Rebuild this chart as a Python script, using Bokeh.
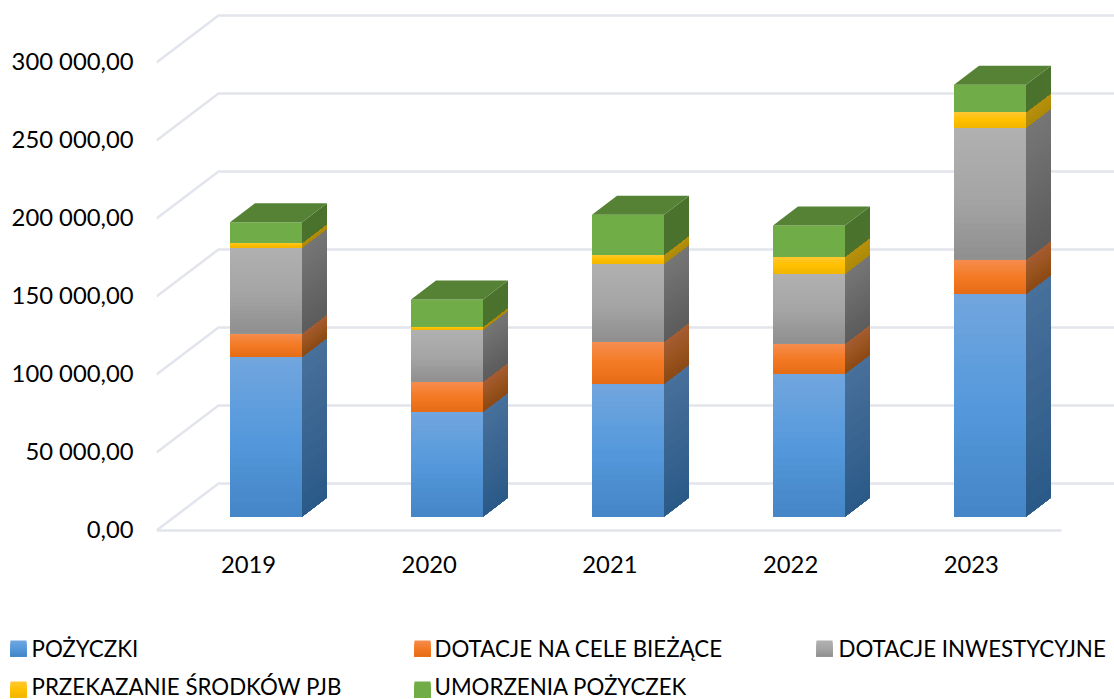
from bokeh.plotting import figure
from bokeh.layouts import column
from bokeh.models import FixedTicker, Range1d
from bokeh.core.properties import value
from bokeh.embed import file_html
from bokeh.resources import INLINE

years = ["2019", "2020", "2021", "2022", "2023"]
pozyczki = [102400, 67300, 85200, 91700, 142800]
dotacje_biezace = [15000, 19200, 26900, 19200, 21900]
dotacje_inwestycyjne = [55100, 33400, 50000, 44900, 84600]
przekazanie_pjb = [2950, 1900, 5800, 10800, 10000]
umorzenia = [13200, 17300, 25600, 19900, 17500]
y_ticks = [0, 50000, 100000, 150000, 200000, 250000, 300000]
y_labels = ["0,00", "50 000,00", "100 000,00", "150 000,00", "200 000,00", "250 000,00", "300 000,00"]

names = ["POŻYCZKI", "DOTACJE NA CELE BIEŻĄCE", "DOTACJE INWESTYCYJNE", "PRZEKAZANIE ŚRODKÓW PJB", "UMORZENIA POŻYCZEK"]
series = [pozyczki, dotacje_biezace, dotacje_inwestycyjne, przekazanie_pjb, umorzenia]
front_stops = [("#72A6DE", "#5599DC", "#4485C6"), ("#F58D50", "#F47A25", "#E66C16"),
               ("#B0B0B0", "#A6A6A6", "#8F8F8F"), ("#FFC835", "#FFC000", "#F2B600"),
               ("#70AD47", "#70AD47", "#70AD47")]
side_stops = [("#48709B", "#3A6591", "#2A5A88"), ("#A65D33", "#9A5420", "#8C4A14"),
              ("#767676", "#696969", "#5C5C5C"), ("#B8920F", "#B38E0C", "#AD8A0A"),
              ("#4B732E", "#4B732E", "#4B732E")]
top_color = "#568235"
grid_color = "#E2E5EC"
FONT = "Lato"
FS_TICK = "23.8px"
FS_LEG = "22.3px"

PX_X = 181.0
PX_Y = 50000 / 78.0
bar_left, bar_w = 73.5 / PX_X, 72 / PX_X
depth_x, depth_y = 25 / PX_X, 19 * PX_Y
base_y = 14 * PX_Y
wall_x, wall_y = 62 / PX_X, 47 * PX_Y
N = 22


def hex2rgb(c):
    return [int(c[i:i + 2], 16) for i in (1, 3, 5)]


def ramp(stops, t):
    if t < 0.5:
        a, b, f = stops[0], stops[1], t * 2
    else:
        a, b, f = stops[1], stops[2], (t - 0.5) * 2
    ca, cb = hex2rgb(a), hex2rgb(b)
    return "#%02x%02x%02x" % tuple(round(u + (v - u) * f) for u, v in zip(ca, cb))


p = figure(width=1114, height=625, output_backend="svg", toolbar_location=None,
           x_range=Range1d(0, 958 / PX_X), y_range=Range1d(-4 * PX_Y, 530 * PX_Y),
           min_border_left=156, min_border_right=0, min_border_top=0, min_border_bottom=91,
           outline_line_color=None, frame_align=False)
p.grid.visible = False

# walls and floor
gx, gy = [[0, 5]], [[0, 0]]
for t in y_ticks:
    gx.append([0, wall_x, 6])
    gy.append([t, t + wall_y, t + wall_y])
p.multi_line(gx, gy, line_color=grid_color, line_width=2.5)

# bars: each gradient stripe runs down to the foot of its segment, so no seams show
xs, ys, cs = [], [], []
for i in range(len(years)):
    x0 = i + bar_left
    x1 = x0 + bar_w
    bottom = base_y
    for k, s in enumerate(series):
        h = s[i]
        for j in range(N):
            hi = bottom + h * (1 - j / N)
            xs.append([x1, x1 + depth_x, x1 + depth_x, x1])
            ys.append([bottom, bottom + depth_y, hi + depth_y, hi])
            cs.append(ramp(side_stops[k], (j + 0.5) / N))
        for j in range(N):
            hi = bottom + h * (1 - j / N)
            xs.append([x0, x1, x1, x0])
            ys.append([bottom, bottom, hi, hi])
            cs.append(ramp(front_stops[k], (j + 0.5) / N))
        bottom += h
    xs.append([x0, x1, x1 + depth_x, x0 + depth_x])
    ys.append([bottom, bottom, bottom + depth_y, bottom + depth_y])
    cs.append(top_color)
p.patches(xs, ys, fill_color=cs, line_color=None)

# axes (labels sit 2px above their gridline starts, as in the reference)
label_lift = 2 * PX_Y
tick_y = [t + label_lift for t in y_ticks]
ya = p.yaxis[0]
ya.ticker = FixedTicker(ticks=tick_y)
ya.major_label_overrides = dict(zip(tick_y, y_labels))
ya.axis_line_color = None
ya.major_tick_line_color = None
ya.minor_tick_line_color = None
ya.major_label_standoff = 17
ya.major_label_text_font = FONT
ya.major_label_text_font_size = FS_TICK
ya.major_label_text_color = "#000000"

tick_x = [i * 180.7 / PX_X + 92 / PX_X for i in range(len(years))]
xa = p.xaxis[0]
xa.ticker = FixedTicker(ticks=tick_x)
xa.major_label_overrides = dict(zip(tick_x, years))
xa.axis_line_color = None
xa.major_tick_line_color = None
xa.minor_tick_line_color = None
xa.major_label_standoff = 15
xa.major_label_text_font = FONT
xa.major_label_text_font_size = FS_TICK
xa.major_label_text_color = "#000000"

# legend strip (canvas pixels, y downward from its top)
leg = figure(width=1114, height=74, output_backend="svg", toolbar_location=None,
             x_range=Range1d(0, 1114), y_range=Range1d(74, 0),
             min_border_left=0, min_border_right=0, min_border_top=0, min_border_bottom=0,
             outline_line_color=None, frame_align=False)
leg.grid.visible = False
leg.axis.visible = False
slots = [(10, 23), (414, 23), (816, 23), (10, 64), (414, 64)]
text_x = [31, 434, 838, 31, 434]
text_y = [23, 23, 23, 61, 61]
lx, ly, lc = [], [], []
for k, (sx, sy) in enumerate(slots):
    for j in range(12):
        a = sy - 8 + j * 16 / 12
        lx.append([sx, sx + 16, sx + 16, sx])
        ly.append([a, a, sy + 8, sy + 8])
        lc.append(ramp(front_stops[k], (j + 0.5) / 12))
leg.patches(lx, ly, fill_color=lc, line_color=None)
leg.text(text_x, text_y, text=names,
         text_font=value(FONT), text_font_size=FS_LEG, text_baseline="middle", text_align="left",
         text_color="#000000")

layout = column(p, leg, spacing=0)
open("out.html", "w").write(file_html(layout, INLINE))
